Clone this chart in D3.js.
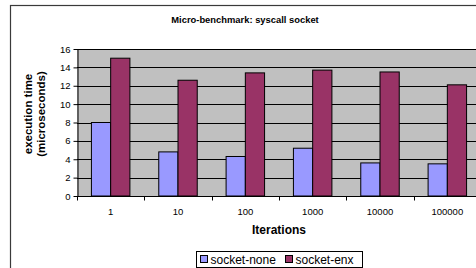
<!DOCTYPE html>
<html>
<head>
<meta charset="utf-8">
<script src="https://cdn.jsdelivr.net/npm/d3@7"></script>
<style>
  body { margin: 0; background: #fff; }
  svg { display: block; font-family: Arial, "Liberation Sans", sans-serif; }
</style>
</head>
<body>
<div id="chart"></div>
<script>
const iterations = ['1', '10', '100', '1000', '10000', '100000']
const seriesNames = ['socket-none', 'socket-enx']
const socketNone = [8.0, 4.8, 4.3, 5.2, 3.6, 3.5]
const socketEnx = [15.0, 12.6, 13.4, 13.7, 13.5, 12.1]
const yTicks = [0, 2, 4, 6, 8, 10, 12, 14, 16]
const colors = ['#9999ff', '#993366']

const w = 476
const h = 268
const margin = { top: 49, right: -5, bottom: 72, left: 77 }
const width = w - margin.left - margin.right
const height = h - margin.top - margin.bottom

const svg = d3.select('#chart').append('svg')
  .attr('width', w)
  .attr('height', h)

// chart frame (runs off the right and bottom edge)
svg.append('rect')
  .attr('x', 10.5).attr('y', 5.5)
  .attr('width', 500).attr('height', 300)
  .attr('fill', '#fff')
  .attr('stroke', '#3a3a3a')
  .attr('stroke-width', 1.2)

svg.append('text')
  .attr('x', 245).attr('y', 23)
  .attr('text-anchor', 'middle')
  .attr('font-size', 9.4).attr('font-weight', 'bold')
  .text('Micro-benchmark: syscall socket')

const g = svg.append('g').attr('transform', 'translate(' + margin.left + ',' + margin.top + ')')

const x0 = d3.scaleBand().domain(iterations).range([0, width])
const bw = x0.bandwidth() / 3.5
const x1 = d3.scaleBand().domain(seriesNames).range([bw * 0.75, bw * 2.75])
const y = d3.scaleLinear().domain([0, 16]).range([height, 0])

g.append('rect')
  .attr('width', width).attr('height', height)
  .attr('fill', '#c0c0c0')

g.selectAll('.grid')
  .data(yTicks.slice(1))
  .enter().append('line')
    .attr('class', 'grid')
    .attr('x1', 0).attr('x2', width)
    .attr('y1', d => Math.round(y(d)) + 0.5)
    .attr('y2', d => Math.round(y(d)) + 0.5)
    .attr('stroke', '#000')

const rows = iterations.map((it, i) => ({ it, vals: [socketNone[i], socketEnx[i]] }))

const grp = g.selectAll('.grp')
  .data(rows)
  .enter().append('g')
    .attr('class', 'grp')
    .attr('transform', d => 'translate(' + x0(d.it) + ',0)')

grp.selectAll('rect')
  .data(d => d.vals.map((v, k) => ({ k, v })))
  .enter().append('rect')
    .attr('x', d => x1(seriesNames[d.k]))
    .attr('y', d => y(d.v))
    .attr('width', x1.bandwidth())
    .attr('height', d => height - y(d.v))
    .attr('fill', d => colors[d.k])
    .attr('stroke', '#000')
    .attr('stroke-width', 1)

// y axis
const yAxis = g.append('g')
  .attr('transform', 'translate(0.5,0)')
  .call(d3.axisLeft(y).tickValues(yTicks).tickSize(4).tickSizeOuter(0))
yAxis.select('.domain').attr('stroke', '#000')
yAxis.selectAll('text').attr('font-size', 9.5).attr('font-family', 'Arial, "Liberation Sans", sans-serif').attr('fill', '#000')

// x axis: ticks at category boundaries, labels centred
const xAxis = g.append('g').attr('transform', 'translate(0,' + (height + 0.5) + ')')
xAxis.append('line').attr('x1', 0).attr('x2', width).attr('stroke', '#000')
xAxis.selectAll('.tk')
  .data(iterations)
  .enter().append('line')
    .attr('class', 'tk')
    .attr('x1', d => Math.round(x0(d)) + 0.5)
    .attr('x2', d => Math.round(x0(d)) + 0.5)
    .attr('y1', 0).attr('y2', 4)
    .attr('stroke', '#000')
xAxis.selectAll('.lb')
  .data(iterations)
  .enter().append('text')
    .attr('class', 'lb')
    .attr('x', d => x0(d) + x0.bandwidth() / 2)
    .attr('y', 18)
    .attr('text-anchor', 'middle')
    .attr('font-size', 9.5)
    .text(d => d)

svg.append('text')
  .attr('x', 279).attr('y', 234)
  .attr('text-anchor', 'middle')
  .attr('font-size', 12).attr('font-weight', 'bold')
  .text('Iterations')

const yt = svg.append('text')
  .attr('transform', 'translate(32,114) rotate(-90)')
  .attr('text-anchor', 'middle')
  .attr('font-size', 11.5).attr('font-weight', 'bold')
yt.append('tspan').attr('x', 0).attr('dy', 0).text('execution time')
yt.append('tspan').attr('x', 0).attr('dy', 12.5).text('(microseconds)')

// legend
const lg = svg.append('g').attr('transform', 'translate(196.5,251.5)')
lg.append('rect')
  .attr('width', 166).attr('height', 16)
  .attr('fill', '#fff').attr('stroke', '#000')
const item = lg.selectAll('.it')
  .data(seriesNames)
  .enter().append('g')
    .attr('class', 'it')
    .attr('transform', (d, i) => 'translate(' + (4 + i * 85) + ',0)')
item.append('rect')
  .attr('y', 4).attr('width', 7).attr('height', 7)
  .attr('fill', (d, i) => colors[i]).attr('stroke', '#000')
item.append('text')
  .attr('x', 10).attr('y', 12)
  .attr('font-size', 12)
  .text(d => d)
</script>
</body>
</html>
